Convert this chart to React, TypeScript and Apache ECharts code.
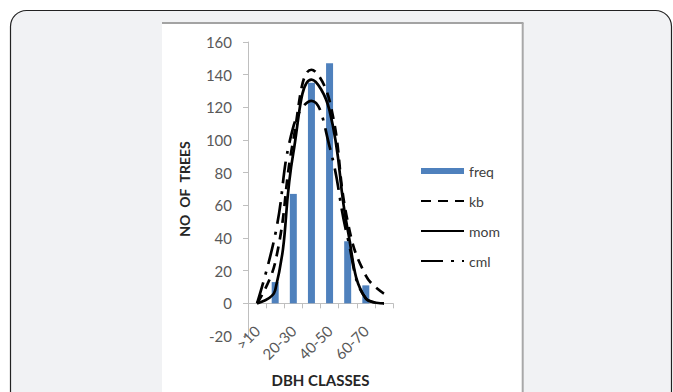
import React, { useEffect, useRef } from "react";
import * as echarts from "echarts";

const categories = [">10", "10-20", "20-30", "30-40", "40-50", "50-60", "60-70", "70-80"];
const freq = [0, 13, 67, 135, 147, 38, 11, 0];
const kb = [0, 25, 100, 143, 124, 50, 17, 6];
const mom = [0, 8, 92, 137, 118, 45, 3, 0];
const cml = [0, 42, 108, 124, 96, 40, 3, 0];
const yMin = -20;
const yMax = 160;
const yStep = 20;

const FONT = "Lato, 'Open Sans', sans-serif";

export default function App() {
  const ref = useRef<HTMLDivElement>(null);
  useEffect(() => {
    if (!ref.current) return;
    const chart = echarts.init(ref.current, undefined, { renderer: "svg" });
    const hideSym = { opacity: 0 };
    chart.setOption({
      animation: false,
      backgroundColor: "#ffffff",
      textStyle: { fontFamily: FONT },
      graphic: [
        {
          type: "rect",
          z: -20,
          shape: { x: 10.5, y: 10.5, width: 661, height: 430, r: 16 },
          style: { fill: "#f1f2f4", stroke: "#222222", lineWidth: 1.2 },
        },
        {
          type: "rect",
          z: -19,
          shape: { x: 162, y: 23, width: 360, height: 380 },
          style: { fill: "#ffffff" },
        },
        {
          type: "line",
          z: -18,
          shape: { x1: 162, y1: 23, x2: 523.5, y2: 23 },
          style: { stroke: "#a3a3a3", lineWidth: 2 },
        },
        {
          type: "line",
          z: -18,
          shape: { x1: 522.7, y1: 23, x2: 522.7, y2: 392 },
          style: { stroke: "#a8a8a8", lineWidth: 2 },
        },
      ],
      grid: { left: 248, right: 280, top: 42, bottom: 56, outerBoundsMode: "none" },
      legend: {
        orient: "vertical",
        left: 420,
        top: 163,
        padding: 0,
        itemWidth: 43,
        itemHeight: 6,
        itemGap: 14,
        textStyle: { fontSize: 14, color: "#404040", fontFamily: FONT, lineHeight: 16 },
        data: [
          { name: "freq", icon: "rect" },
          { name: "kb", itemStyle: hideSym },
          { name: "mom", itemStyle: hideSym },
          { name: "cml", itemStyle: hideSym },
        ],
      },
      xAxis: {
        type: "category",
        data: categories,
        boundaryGap: true,
        axisLine: { onZero: true, lineStyle: { color: "#bfbfbf", width: 1 } },
        axisTick: { show: true, interval: 0, length: 5, lineStyle: { color: "#bfbfbf" } },
        axisLabel: {
          interval: 1,
          rotate: 45,
          margin: -8,
          fontSize: 15,
          color: "#595959",
          fontFamily: FONT,
        },
        name: "DBH CLASSES",
        nameLocation: "middle",
        nameGap: 36,
        nameMoveOverlap: false,
        nameTextStyle: { fontSize: 15, fontWeight: "bold", color: "#262626", fontFamily: FONT },
      },
      yAxis: {
        type: "value",
        min: yMin,
        max: yMax,
        interval: yStep,
        splitLine: { show: false },
        axisLine: { show: true, lineStyle: { color: "#bfbfbf", width: 1 } },
        axisTick: { show: true, length: 5, lineStyle: { color: "#bfbfbf" } },
        axisLabel: { margin: 16, fontSize: 15, color: "#595959", fontFamily: FONT },
        name: "NO  OF  TREES",
        nameLocation: "middle",
        nameRotate: 90,
        nameGap: 57,
        nameMoveOverlap: false,
        nameTextStyle: { fontSize: 14, fontWeight: "bold", color: "#262626", fontFamily: FONT },
      },
      series: [
        {
          name: "freq",
          type: "bar",
          data: freq,
          barWidth: 7,
          itemStyle: { color: "#4f81bd" },
          z: 1,
        },
        {
          name: "kb",
          type: "line",
          data: kb,
          smooth: 0.45,
          symbol: "none",
          lineStyle: { color: "#000000", width: 2.7, type: [10, 7] },
          itemStyle: { color: "#000000" },
          z: 3,
        },
        {
          name: "mom",
          type: "line",
          data: mom,
          smooth: 0.45,
          symbol: "none",
          lineStyle: { color: "#000000", width: 2.7, type: "solid" },
          itemStyle: { color: "#000000" },
          z: 3,
        },
        {
          name: "cml",
          type: "line",
          data: cml,
          smooth: 0.45,
          symbol: "none",
          lineStyle: { color: "#000000", width: 2.7, type: [22, 8, 3, 8] },
          itemStyle: { color: "#000000" },
          z: 3,
        },
      ],
    });
    return () => chart.dispose();
  }, []);
  return (
    <div
      ref={ref}
      style={{ position: "fixed", left: 0, top: 0, width: 673, height: 392 }}
    />
  );
}
